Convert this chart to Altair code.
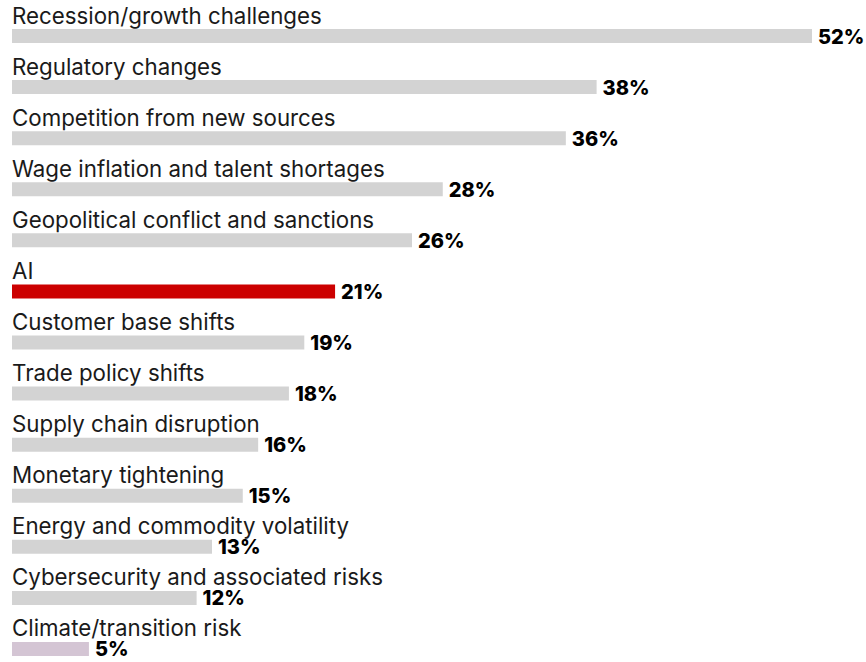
import altair as alt
import pandas as pd

categories = [
    "Recession/growth challenges",
    "Regulatory changes",
    "Competition from new sources",
    "Wage inflation and talent shortages",
    "Geopolitical conflict and sanctions",
    "AI",
    "Customer base shifts",
    "Trade policy shifts",
    "Supply chain disruption",
    "Monetary tightening",
    "Energy and commodity volatility",
    "Cybersecurity and associated risks",
    "Climate/transition risk",
]
values = [52, 38, 36, 28, 26, 21, 19, 18, 16, 15, 13, 12, 5]
colors = ["#d3d3d3"] * 5 + ["#cc0000"] + ["#d3d3d3"] * 6 + ["#d4c5d4"]

df = pd.DataFrame({
    "cat": categories,
    "val": values,
    "color": colors,
    "lbl": [f"{v}%" for v in values],
})

y = alt.Y("cat:N", sort=categories, axis=None,
          scale=alt.Scale(paddingInner=0, paddingOuter=0, range=[0, 664]))
x = alt.X("val:Q", axis=None, scale=alt.Scale(domain=[0, 52], nice=False, zero=True))

base = alt.Chart(df)

bars = base.mark_bar(height=14, yOffset=10.5).encode(
    x=x, y=y, color=alt.Color("color:N", scale=None)
)

names = base.mark_text(align="left", baseline="alphabetic", dy=-2,
                       font="Inter", fontSize=22.3, fontWeight=400,
                       color="#1a1a1a").encode(
    x=alt.value(0), y=y, text="cat:N"
)

nums = base.mark_text(align="left", baseline="alphabetic", dx=6, dy=18,
                      font="Inter", fontSize=20, fontWeight=800,
                      color="#000000").encode(
    x=x, y=y, text="lbl:N"
)

chart = alt.layer(bars, names, nums).properties(
    width=800, height=662,
    autosize=alt.AutoSizeParams(type="none"),
    padding={"left": 12, "top": 0, "right": 54, "bottom": 0},
).configure(background="#ffffff").configure_view(stroke=None, strokeWidth=0)

chart.save("out.html", embed_options={"renderer": "svg", "actions": False})
